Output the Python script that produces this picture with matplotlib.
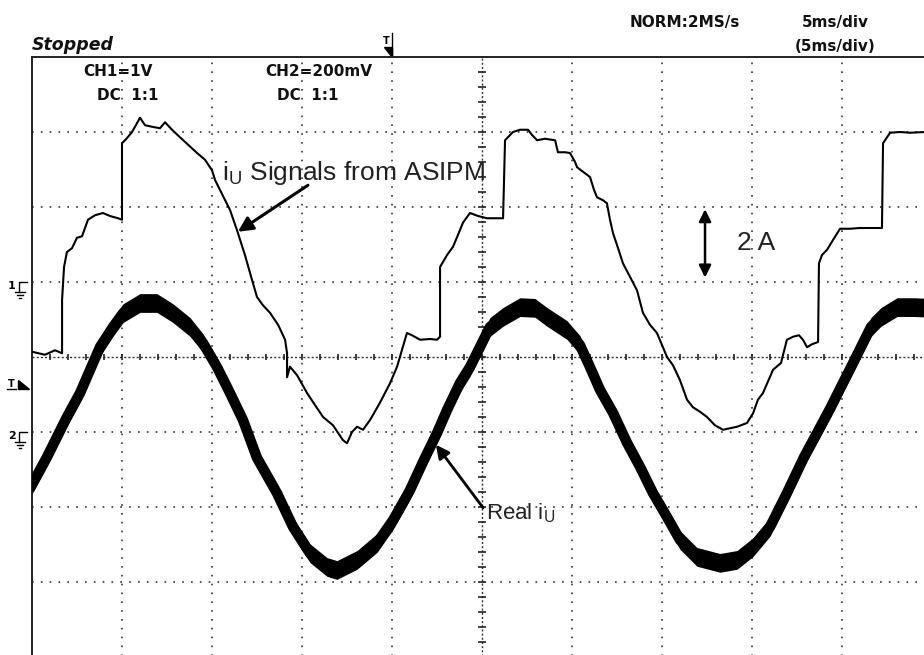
import numpy as np
import matplotlib.pyplot as plt
from matplotlib.patches import Polygon

# scope settings (5 ms/div, 10 div across, 8 div high)
ms_per_div = 5.0
ch1_volts_per_div = 1.0
ch2_volts_per_div = 0.2
ch1_ground_div = 1.0
ch2_ground_div = -1.0

# CH1: i_U signal from ASIPM (time in ms, volts)
ch1_t = [
    0.00, 0.72, 1.28, 1.67, 1.67, 1.78, 1.94, 2.22, 2.50, 2.78,
    3.11, 3.50, 3.94, 4.33, 4.78, 5.00, 5.00, 5.28, 5.56, 6.00,
    6.28, 6.67, 7.11, 7.39, 7.78, 8.22, 8.67, 9.17, 9.61, 10.00,
    10.17, 10.44, 11.00, 11.39, 11.83, 12.22, 12.50, 12.83, 13.22, 13.67,
    14.06, 14.17, 14.17, 14.33, 14.72, 15.28, 15.72, 16.17, 16.72, 17.28,
    17.50, 17.78, 18.06, 18.39, 18.78, 19.33, 19.89, 20.28, 20.44, 20.83,
    21.11, 21.56, 22.11, 22.50, 22.67, 22.67, 23.06, 23.39, 23.67, 23.94,
    24.33, 24.78, 25.28, 25.72, 26.17, 26.28, 26.56, 26.72, 27.11, 27.56,
    27.78, 28.06, 28.50, 29.06, 29.22, 29.61, 29.89, 30.17, 30.28, 30.61,
    31.00, 31.22, 31.39, 31.72, 31.94, 32.11, 32.28, 32.56, 32.83, 33.22,
    33.61, 33.94, 34.33, 34.72, 35.00, 35.28, 35.61, 36.00, 36.39, 36.72,
    37.11, 37.50, 37.94, 38.39, 38.78, 39.17, 39.72, 40.06, 40.33, 40.61,
    41.17, 41.61, 41.94, 42.28, 42.61, 42.83, 43.06, 43.33, 43.67, 43.72,
    43.89, 44.17, 44.50, 44.89, 45.44, 46.00, 46.56, 47.22, 47.28, 47.50,
    47.67, 48.22, 48.78, 49.56, 50.00]
ch1_v = [
    -0.93, -0.97, -0.91, -0.95, -0.24, 0.20, 0.40, 0.45, 0.59, 0.61,
    0.83, 0.89, 0.92, 0.88, 0.85, 0.83, 1.85, 1.92, 2.00, 2.19,
    2.09, 2.07, 2.05, 2.13, 2.03, 1.93, 1.83, 1.72, 1.63, 1.49,
    1.36, 1.23, 0.96, 0.69, 0.36, 0.03, -0.20, -0.31, -0.41, -0.57,
    -0.77, -0.95, -1.27, -1.13, -1.24, -1.48, -1.64, -1.80, -1.91, -2.11,
    -2.15, -2.00, -1.93, -1.97, -1.84, -1.61, -1.35, -1.13, -1.00, -0.68,
    -0.71, -0.77, -0.76, -0.77, -0.73, 0.20, 0.36, 0.47, 0.63, 0.79,
    0.92, 0.88, 0.85, 0.85, 0.85, 1.89, 1.96, 2.00, 2.03, 2.03,
    1.96, 1.89, 1.91, 1.89, 1.73, 1.73, 1.72, 1.60, 1.53, 1.47,
    1.40, 1.23, 1.13, 1.09, 1.05, 0.83, 0.65, 0.45, 0.25, 0.07,
    -0.11, -0.41, -0.57, -0.68, -0.84, -1.00, -1.11, -1.31, -1.57, -1.67,
    -1.73, -1.80, -1.91, -1.97, -1.95, -1.93, -1.88, -1.75, -1.57, -1.48,
    -1.17, -1.08, -0.77, -0.73, -0.71, -0.77, -0.87, -0.83, -0.80, 0.25,
    0.36, 0.43, 0.56, 0.71, 0.71, 0.72, 0.72, 0.72, 1.85, 1.93,
    1.99, 2.00, 1.99, 2.00, 2.00]

# CH2: real i_U (time in ms, volts), plus ripple half-height of the noisy band
ch2_t = [0.00, 0.83, 1.39, 1.94, 2.67, 3.22, 3.78, 4.50, 5.06, 6.00,
         6.94, 7.83, 8.78, 9.50, 10.28, 11.00, 11.72, 12.50, 13.61, 14.50,
         15.44, 16.39, 16.94, 18.06, 19.17, 20.06, 21.00, 21.72, 22.50, 23.06,
         23.78, 24.33, 24.89, 25.44, 26.17, 27.11, 27.94, 28.61, 29.72, 30.44,
         31.00, 31.56, 32.28, 33.06, 33.78, 34.50, 35.28, 36.00, 36.94, 38.22,
         39.17, 40.06, 41.00, 41.94, 42.89, 43.61, 44.39, 44.94, 45.50, 46.06,
         46.61, 47.17, 48.06, 49.00, 50.00]
ch2_v = [-0.140, -0.067, -0.013, 0.040, 0.104, 0.165, 0.227, 0.280, 0.317, 0.344,
         0.344, 0.317, 0.280, 0.237, 0.173, 0.104, 0.032, -0.069, -0.163, -0.253,
         -0.323, -0.360, -0.368, -0.341, -0.296, -0.235, -0.155, -0.080, -0.003, 0.059,
         0.131, 0.173, 0.227, 0.280, 0.307, 0.333, 0.331, 0.307, 0.272, 0.232,
         0.173, 0.112, 0.051, -0.029, -0.093, -0.163, -0.227, -0.288, -0.333, -0.349,
         -0.341, -0.307, -0.253, -0.163, -0.067, -0.003, 0.067, 0.120, 0.173, 0.227,
         0.280, 0.307, 0.333, 0.333, 0.331]
ch2_ripple = 0.025

assert len(ch1_t) == len(ch1_v) and len(ch2_t) == len(ch2_v)

# screen positions in divisions
ch1_y = np.array(ch1_v) / ch1_volts_per_div + ch1_ground_div
ch2_y = np.array(ch2_v) / ch2_volts_per_div + ch2_ground_div
ch2_lo = (np.array(ch2_v) - ch2_ripple) / ch2_volts_per_div + ch2_ground_div
ch2_hi = (np.array(ch2_v) + ch2_ripple) / ch2_volts_per_div + ch2_ground_div

W, H = 924, 655
fig = plt.figure(figsize=(W / 100, H / 100), dpi=100)

# overlay in pixel coords for the scope furniture around the graticule
deco = fig.add_axes([0, 0, 1, 1])
deco.set_xlim(0, W)
deco.set_ylim(H, 0)
deco.axis('off')

hdr = dict(family='DejaVu Sans', weight='bold', color='#111111', fontsize=11)
deco.text(32, 50, 'Stopped', style='italic', family='DejaVu Sans', weight='bold',
          color='#111111', fontsize=12.5)
deco.text(630, 27, 'NORM:2MS/s', **hdr)
deco.text(802, 27, '5ms/div', **hdr)
deco.text(795, 51, '(5ms/div)', **hdr)

# trigger position marker on top
deco.text(383, 44, 'T', family='DejaVu Sans', weight='bold', fontsize=7)
deco.plot([392, 392], [33, 56], color='black', lw=1)
deco.add_patch(Polygon([[384, 47], [392, 47], [392, 57]], closed=True, color='black'))


def ground_mark(y, label):
    deco.text(8, y + 7, label, family='DejaVu Sans', weight='bold', fontsize=8)
    deco.plot([27, 19, 19], [y, y, y + 10], color='black', lw=1)
    for dy, half in [(10, 5), (13, 3), (16, 1)]:
        deco.plot([19.5 - half, 19.5 + half], [y + dy, y + dy], color='black', lw=1)


ground_mark(282, '1')
ground_mark(432, '2')
# trigger level marker
deco.text(8, 387, 'T', family='DejaVu Sans', weight='bold', fontsize=7)
deco.plot([7, 16], [389, 389], color='black', lw=1)
deco.add_patch(Polygon([[18, 380], [18, 389], [29, 389]], closed=True, color='black'))

# graticule axes
ax = fig.add_axes([32 / W, -2 / H, 900 / W, 600 / H])
ax.set_facecolor('none')
ax.set_xlim(0, 10 * ms_per_div)
ax.set_ylim(-4, 4)
ax.set_xticks([])
ax.set_yticks([])
for side in ['right', 'bottom']:
    ax.spines[side].set_visible(False)
for side in ['top', 'left']:
    ax.spines[side].set_linewidth(1.4)
    ax.spines[side].set_color('#222222')

dot = dict(color='#333333', lw=1.2, linestyle=(0, (1, 4.3)), zorder=1)
for k in range(1, 10):
    if k != 5:
        ax.axvline(k * ms_per_div, **dot)
for k in [-3, -2, -1, 1, 2, 3]:
    ax.axhline(k, **dot)

# centre cross with minor ticks
fine = dict(color='#333333', lw=1.0, linestyle=(0, (1.5, 1.5)), zorder=1)
ax.axhline(0, **fine)
ax.axvline(5 * ms_per_div, **fine)
ax.plot(np.arange(1, 50, 1.0), np.zeros(49), '|', color='#222222', ms=5, mew=1.2, zorder=1)
ax.plot(np.full(39, 5 * ms_per_div), np.arange(-3.8, 3.81, 0.2), '_', color='#222222',
        ms=6, mew=1.2, zorder=1)

# channel labels
lab = dict(family='DejaVu Sans', weight='bold', fontsize=11, color='#111111')
deco.text(83, 76, 'CH1=1V', **lab)
deco.text(97, 100, 'DC  1:1', **lab)
deco.text(265, 76, 'CH2=200mV', **lab)
deco.text(277, 100, 'DC  1:1', **lab)

# traces
ax.fill_between(ch2_t, ch2_lo, ch2_hi, color='black', lw=0, zorder=3)
ax.plot(ch2_t, ch2_y, color='black', lw=7.5, zorder=3, solid_joinstyle='round')
ax.plot(ch1_t, ch1_y, color='black', lw=1.5, zorder=4)

# annotations
ann_font = ['Liberation Sans', 'DejaVu Sans']
ax.text(10.56, 2.36, r'i$_\mathregular{U}$ Signals from ASIPM', family=ann_font,
        fontsize=19, color='#222222', zorder=6)
ax.annotate('', xy=(11.44, 1.67), xytext=(15.33, 2.29),
            arrowprops=dict(arrowstyle='-|>', color='black', lw=2.2,
                            mutation_scale=22, shrinkA=0, shrinkB=0), zorder=6)

ax.annotate('', xy=(37.39, 1.97), xytext=(37.39, 1.06),
            arrowprops=dict(arrowstyle='<|-|>', color='black', lw=1.8,
                            mutation_scale=18, shrinkA=0, shrinkB=0), zorder=6)
ax.text(39.17, 1.52, '2 A', family=ann_font, fontsize=19, color='#222222',
        va='center', zorder=6)

ax.annotate('', xy=(22.44, -1.17), xytext=(25.06, -2.01),
            arrowprops=dict(arrowstyle='-|>', color='black', lw=2.0,
                            mutation_scale=20, shrinkA=0, shrinkB=0), zorder=6)
ax.text(25.2, -2.17, r'Real i$_\mathregular{U}$', family=ann_font,
        fontsize=16, color='#222222', zorder=6)

fig.savefig('out.png', dpi=100, facecolor='white')
